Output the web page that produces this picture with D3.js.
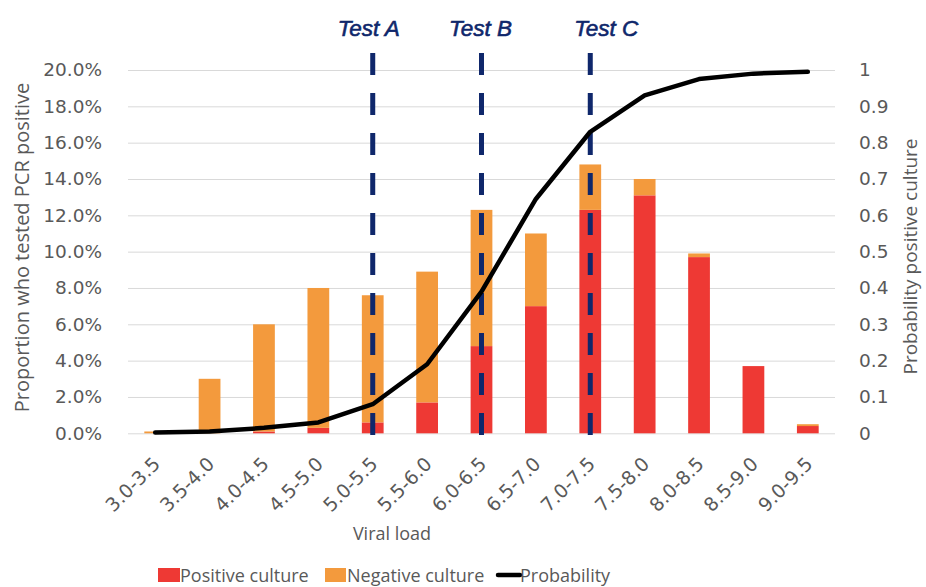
<!DOCTYPE html>
<html>
<head>
<meta charset="utf-8">
<script src="https://cdn.jsdelivr.net/npm/d3@7"></script>
<style>
  html, body { margin: 0; padding: 0; background: #fff; }
  svg { display: block; }
</style>
</head>
<body>
<svg id="chart" width="926" height="587"></svg>
<script>
// ---- data ----
const categories = ["3.0-3.5","3.5-4.0","4.0-4.5","4.5-5.0","5.0-5.5","5.5-6.0","6.0-6.5","6.5-7.0","7.0-7.5","7.5-8.0","8.0-8.5","8.5-9.0","9.0-9.5"];
const positiveCulture = [0.0, 0.0, 0.1, 0.3, 0.6, 1.7, 4.8, 7.0, 12.3, 13.1, 9.7, 3.7, 0.4];
const negativeCulture = [0.1, 3.0, 5.9, 7.7, 7.0, 7.2, 7.5, 4.0, 2.5, 0.9, 0.2, 0.0, 0.1];
const probability = [0.002, 0.005, 0.015, 0.03, 0.08, 0.19, 0.39, 0.645, 0.83, 0.93, 0.975, 0.99, 0.995];
const leftTicks = [0, 2, 4, 6, 8, 10, 12, 14, 16, 18, 20];
const rightTicks = [0, 0.1, 0.2, 0.3, 0.4, 0.5, 0.6, 0.7, 0.8, 0.9, 1];
const testNames = ["Test A", "Test B", "Test C"];
const testCategories = ["5.0-5.5", "6.0-6.5", "7.0-7.5"];
const legendLabels = ["Positive culture", "Negative culture", "Probability"];

// ---- layout ----
const plot = { left: 128, right: 835, top: 70, bottom: 433.3 };
const colors = { pos: "#ee3934", neg: "#f39a3d", line: "#000000", test: "#0f276b", text: "#595959", grid: "#d9d9d9" };
const testLabelDx = [-4, -1, 16];
const tickFont = "'DejaVu Sans', sans-serif";
const titleFont = "'Open Sans', sans-serif";

const svg = d3.select("#chart");

const x = d3.scaleBand().domain(categories).range([plot.left, plot.right]).paddingInner(0.6).paddingOuter(0.3);
const yL = d3.scaleLinear().domain([0, 20]).range([plot.bottom, plot.top]);
const yR = d3.scaleLinear().domain([0, 1]).range([plot.bottom, plot.top]);
const cx = c => x(c) + x.bandwidth() / 2;

// gridlines
const grid = svg.append("g").attr("transform", `translate(${plot.left},0)`)
  .call(d3.axisLeft(yL).tickValues(leftTicks).tickSize(-(plot.right - plot.left)).tickFormat(""));
grid.select(".domain").remove();
grid.selectAll("line").attr("stroke", colors.grid).attr("stroke-width", 1);

// stacked bars
const rows = categories.map((c, i) => ({ cat: c, pos: positiveCulture[i], neg: negativeCulture[i] }));
const stack = d3.stack().keys(["pos", "neg"])(rows);
svg.append("g").selectAll("g").data(stack).join("g")
  .attr("fill", d => d.key === "pos" ? colors.pos : colors.neg)
  .selectAll("rect").data(d => d).join("rect")
  .attr("x", d => x(d.data.cat))
  .attr("width", x.bandwidth())
  .attr("y", d => yL(d[1]))
  .attr("height", d => Math.max(0, yL(d[0]) - yL(d[1])));

// test lines
const tests = testNames.map((n, i) => ({ name: n, cat: testCategories[i], dx: testLabelDx[i] }));
svg.append("g").selectAll("line").data(tests).join("line")
  .attr("x1", d => cx(d.cat)).attr("x2", d => cx(d.cat))
  .attr("y1", 53).attr("y2", plot.bottom + 2)
  .attr("stroke", colors.test).attr("stroke-width", 5)
  .attr("stroke-dasharray", "22 18");
svg.append("g").selectAll("text").data(tests).join("text")
  .attr("x", d => cx(d.cat) + d.dx).attr("y", 36)
  .attr("text-anchor", "middle")
  .attr("font-family", "'Liberation Sans', Arial, sans-serif")
  .attr("font-style", "italic")
  .attr("font-size", 22.5)
  .attr("fill", colors.test)
  .attr("stroke", colors.test)
  .attr("stroke-width", 0.6)
  .text(d => d.name);

// probability line
svg.append("path")
  .datum(probability)
  .attr("fill", "none")
  .attr("stroke", colors.line)
  .attr("stroke-width", 4.5)
  .attr("stroke-linejoin", "round")
  .attr("stroke-linecap", "round")
  .attr("d", d3.line().x((d, i) => cx(categories[i])).y(d => yR(d)));

// left axis
const la = svg.append("g").attr("transform", `translate(${plot.left},0)`)
  .call(d3.axisLeft(yL).tickValues(leftTicks).tickSize(0).tickPadding(26).tickFormat(d => d.toFixed(1) + "%"));
la.select(".domain").remove();
la.selectAll("text").attr("font-family", tickFont).attr("font-size", 18.5).attr("fill", colors.text);

// right axis
const ra = svg.append("g").attr("transform", `translate(${plot.right},0)`)
  .call(d3.axisRight(yR).tickValues(rightTicks).tickSize(0).tickPadding(24).tickFormat(d => d === 0 || d === 1 ? String(d) : d.toFixed(1)));
ra.select(".domain").remove();
ra.selectAll("text").attr("font-family", tickFont).attr("font-size", 18.5).attr("fill", colors.text);

// x axis
const xa = svg.append("g").attr("transform", `translate(0,${plot.bottom})`)
  .call(d3.axisBottom(x).tickSize(0));
xa.select(".domain").remove();
xa.selectAll("text")
  .attr("font-family", tickFont).attr("font-size", 19).attr("fill", colors.text)
  .attr("text-anchor", "end")
  .attr("y", 0).attr("dy", 0)
  .attr("transform", "translate(6,32) rotate(-45)");

// axis titles
svg.append("text")
  .attr("transform", `translate(29,${(413 + 82) / 2}) rotate(-90)`)
  .attr("text-anchor", "middle")
  .attr("font-family", titleFont).attr("font-size", 20).attr("fill", colors.text)
  .text("Proportion who tested PCR positive");
svg.append("text")
  .attr("transform", `translate(917,${(375 + 138) / 2}) rotate(-90)`)
  .attr("text-anchor", "middle")
  .attr("font-family", titleFont).attr("font-size", 19).attr("fill", colors.text)
  .text("Probability positive culture");
svg.append("text")
  .attr("x", 392).attr("y", 540)
  .attr("text-anchor", "middle")
  .attr("font-family", titleFont).attr("font-size", 18).attr("fill", colors.text)
  .text("Viral load");

// legend
const lg = svg.append("g");
const legendX = [158, 325, 498];
lg.append("rect").attr("x", legendX[0]).attr("y", 568).attr("width", 22).attr("height", 14).attr("fill", colors.pos);
lg.append("rect").attr("x", legendX[1]).attr("y", 568).attr("width", 21).attr("height", 14).attr("fill", colors.neg);
lg.append("line").attr("x1", legendX[2]).attr("x2", legendX[2] + 22).attr("y1", 575).attr("y2", 575)
  .attr("stroke", colors.line).attr("stroke-width", 4.5).attr("stroke-linecap", "round");
lg.selectAll("text").data(legendLabels).join("text")
  .attr("x", (d, i) => legendX[i] + 22)
  .attr("y", 582)
  .attr("font-family", titleFont).attr("font-size", 18).attr("fill", colors.text)
  .text(d => d);
</script>
</body>
</html>
